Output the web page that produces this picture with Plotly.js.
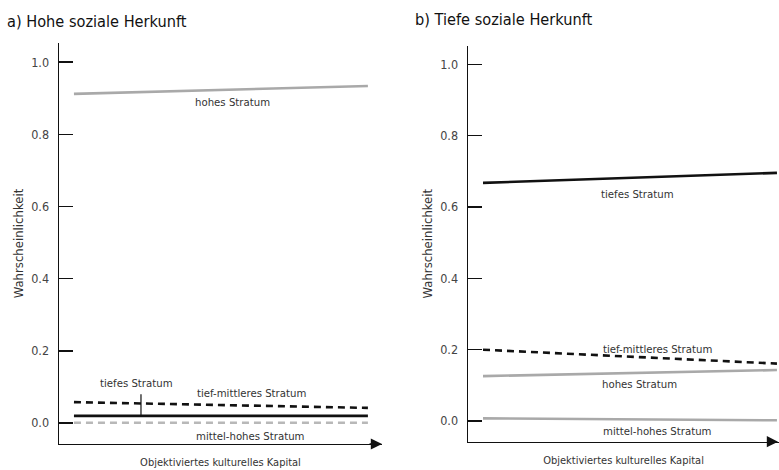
<!DOCTYPE html>
<html>
<head>
<meta charset="utf-8">
<script src="https://cdn.plot.ly/plotly-3.0.1.min.js"></script>
<style>
  html, body { margin: 0; padding: 0; background: #fff; }
  #chart { width: 779px; height: 470px; }
</style>
</head>
<body>
<div id="chart"></div>
<script>
// Objektiviertes kulturelles Kapital (scaled 0 = min, 1 = max)
const kapital = [0, 1];

// a) Hohe soziale Herkunft – predicted probabilities per stratum
const hochHohes = [0.912, 0.934];
const hochTiefMittleres = [0.058, 0.042];
const hochTiefes = [0.020, 0.020];
const hochMittelHohes = [0.001, 0.001];

// b) Tiefe soziale Herkunft
const tiefTiefes = [0.668, 0.696];
const tiefTiefMittleres = [0.200, 0.161];
const tiefHohes = [0.126, 0.143];
const tiefMittelHohes = [0.0075, 0.002];

const yTicks = [0, 0.2, 0.4, 0.6, 0.8, 1.0];
const yTickText = ['0.0', '0.2', '0.4', '0.6', '0.8', '1.0'];

const FONT = '"Liberation Sans Narrow", "DejaVu Sans Condensed", "Arial Narrow", sans-serif';
const GREY = '#a9a9a9';
const BLACK = '#111111';
const TXT = '#333333';

function line(y, color, dash, xa, ya) {
  return {
    x: kapital, y: y, xaxis: xa, yaxis: ya, type: 'scatter', mode: 'lines',
    line: { color: color, width: 2.6, dash: dash }, hoverinfo: 'skip', showlegend: false
  };
}

const data = [
  line(hochHohes, GREY, 'solid', 'x', 'y'),
  line(hochMittelHohes, '#b8b8b8', '7px,5px', 'x', 'y'),
  line(hochTiefes, BLACK, 'solid', 'x', 'y'),
  line(hochTiefMittleres, BLACK, '7px,5px', 'x', 'y'),
  line(tiefHohes, GREY, 'solid', 'x2', 'y2'),
  line(tiefMittelHohes, GREY, 'solid', 'x2', 'y2'),
  line(tiefTiefes, BLACK, 'solid', 'x2', 'y2'),
  line(tiefTiefMittleres, BLACK, '7px,5px', 'x2', 'y2')
];

function yAxis(domain) {
  return {
    domain: domain, range: [-0.058, 1.053], fixedrange: true,
    tickmode: 'array', tickvals: yTicks, ticktext: yTickText,
    ticks: 'inside', ticklen: 14, tickwidth: 1.4, tickcolor: BLACK,
    showline: true, linecolor: BLACK, linewidth: 1.4, showgrid: false, zeroline: false,
    tickfont: { family: FONT, size: 12.5, color: '#444' }, ticklabelstandoff: 6,
    title: { text: 'Wahrscheinlichkeit', font: { family: FONT, size: 13, color: TXT }, standoff: 4 }
  };
}

function xAxis(domain, range) {
  return {
    domain: domain, range: range, fixedrange: true,
    showticklabels: false, ticks: '', showgrid: false, zeroline: false,
    showline: true, linecolor: BLACK, linewidth: 1.4,
    title: { text: 'Objektiviertes kulturelles Kapital', font: { family: FONT, size: 11, color: TXT }, standoff: 14 }
  };
}

function label(text, x, y, xa, ya) {
  return { text: text, x: x, y: y, xref: xa, yref: ya, showarrow: false,
           font: { family: FONT, size: 11.3, color: TXT }, xanchor: 'center', yanchor: 'middle' };
}

function arrowHead(xTip, yTip) {
  return { x: xTip, y: yTip, xref: 'paper', yref: 'paper', ax: -14, ay: 0, text: '',
           showarrow: true, arrowhead: 2, arrowsize: 1.6, arrowwidth: 1.4, arrowcolor: BLACK };
}

const layout = {
  width: 779, height: 470,
  margin: { l: 0, r: 0, t: 0, b: 0 },
  paper_bgcolor: '#fff', plot_bgcolor: '#fff',
  showlegend: false,
  xaxis: xAxis([0.0757, 0.4904], [-0.051, 1.048]),
  yaxis: yAxis([0.0553, 0.9085]),
  xaxis2: xAxis([0.6008, 1.0], [-0.051, 1.007]),
  yaxis2: Object.assign(yAxis([0.0602, 0.903]), { anchor: 'x2' }),
  annotations: [
    { text: 'a) Hohe soziale Herkunft', x: 5 / 779, y: 1 - 21 / 470, xref: 'paper', yref: 'paper',
      xanchor: 'left', yanchor: 'middle', showarrow: false, font: { family: FONT, size: 16.2, color: '#111' } },
    { text: 'b) Tiefe soziale Herkunft', x: 413 / 779, y: 1 - 20 / 470, xref: 'paper', yref: 'paper',
      xanchor: 'left', yanchor: 'middle', showarrow: false, font: { family: FONT, size: 16.2, color: '#111' } },
    label('hohes Stratum', 0.54, 0.888, 'x', 'y'),
    label('tiefes Stratum', 0.214, 0.111, 'x', 'y'),
    label('tief-mittleres Stratum', 0.605, 0.082, 'x', 'y'),
    label('mittel-hohes Stratum', 0.602, -0.037, 'x', 'y'),
    label('tiefes Stratum', 0.527, 0.634, 'x2', 'y2'),
    label('tief-mittleres Stratum', 0.595, 0.2, 'x2', 'y2'),
    label('hohes Stratum', 0.534, 0.103, 'x2', 'y2'),
    label('mittel-hohes Stratum', 0.595, -0.028, 'x2', 'y2'),
    arrowHead(0.4904, 0.0553),
    arrowHead(1.008, 0.0602)
  ],
  shapes: [
    // pointer from the "tiefes Stratum" label down to its line
    { type: 'line', xref: 'x', yref: 'y', x0: 0.228, x1: 0.228, y0: 0.08, y1: hochTiefes[0],
      line: { color: BLACK, width: 1.2 } }
  ]
};
layout.xaxis.anchor = 'y';
layout.yaxis.anchor = 'x';
layout.xaxis2.anchor = 'y2';

Plotly.newPlot('chart', data, layout, { displayModeBar: false, staticPlot: true });
</script>
</body>
</html>
